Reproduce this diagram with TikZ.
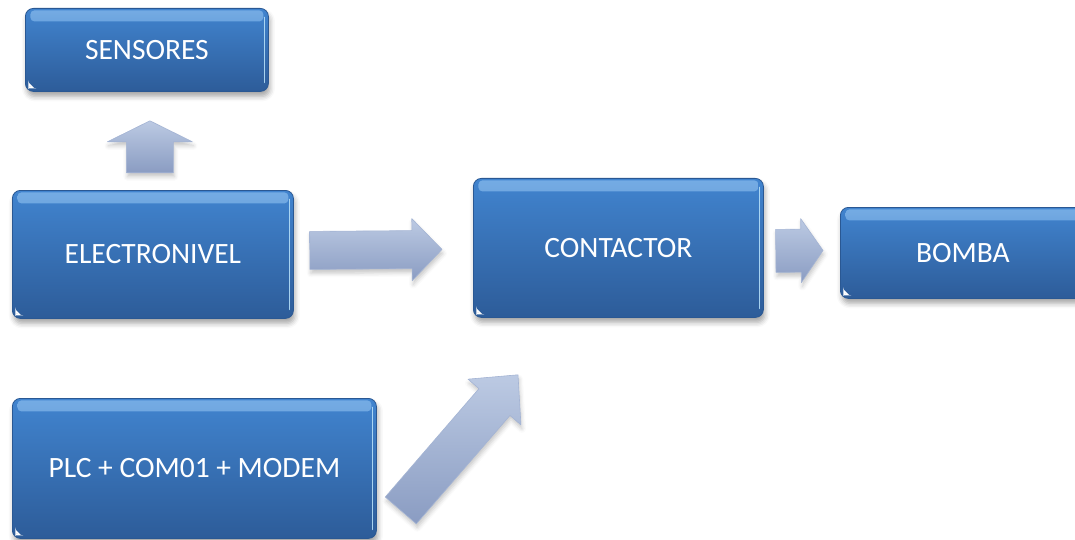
\documentclass[tikz,border=0pt]{standalone}
\usepackage{fontspec}
\setmainfont{Carlito}
\usetikzlibrary{calc,shadows.blur}

\definecolor{boxtop}{HTML}{4184CF}
\definecolor{boxbot}{HTML}{2D5C99}
\definecolor{boxedge}{HTML}{2A5893}
\definecolor{boxshine}{HTML}{7FB4E8}
\definecolor{boxrim}{HTML}{B5DFF8}
\definecolor{arrtop}{HTML}{BCCAE3}
\definecolor{arrbot}{HTML}{8A9CC2}
\definecolor{arredge}{HTML}{A4B4D4}

\tikzset{
  block/.style={
    rounded corners=8pt, draw=boxedge, line width=0.8pt,
    top color=boxtop, bottom color=boxbot,
    text=white, font=\fontsize{29.5}{33}\selectfont,
    inner sep=0pt, anchor=north west,
    blur shadow={shadow xshift=1.5pt, shadow yshift=-5pt,
                 shadow blur radius=5pt, shadow opacity=35},
    path picture={
      % glossy band along the top edge
      \shade[top color=boxshine, bottom color=boxtop, rounded corners=4pt, opacity=0.85]
        ($(path picture bounding box.north west)+(5,2)$) rectangle
        ($(path picture bounding box.north east)+(-5,13)$);
      % bright rim on the right side
      \draw[boxrim, line width=1.4pt, line cap=round, opacity=0.9]
        ($(path picture bounding box.north east)+(-4,9)$) --
        ($(path picture bounding box.south east)+(-4,-9)$);
      % small light corner at the bottom left
      \fill[white]
        ($(path picture bounding box.south west)+(3,-3)$) --
        ($(path picture bounding box.south west)+(3,-9)$) --
        ($(path picture bounding box.south west)+(9,-3)$) -- cycle;
    }
  },
  arrowbody/.style={
    top color=arrtop, bottom color=arrbot, draw=arredge, line width=0.6pt,
    line join=round,
    blur shadow={shadow xshift=1pt, shadow yshift=-4pt,
                 shadow blur radius=4pt, shadow opacity=22}
  }
}

% block arrow: #1 tail, #2 tip, #3 shaft half width, #4 head half width, #5 head length
\newcommand\blockarrow[5]{%
  \coordinate (neck) at ($(#2)!#5!(#1)$);
  \path[arrowbody]
    ($(#1)!#3!90:(#2)$) -- ($(neck)!#3!90:(#2)$) -- ($(neck)!#4!90:(#2)$) --
    (#2) --
    ($(neck)!#4!-90:(#2)$) -- ($(neck)!#3!-90:(#2)$) -- ($(#1)!#3!-90:(#2)$) -- cycle;
}

\begin{document}
\begin{tikzpicture}[x=1pt, y=-1pt]
  \useasboundingbox (0,0) rectangle (1075,540);
  \clip (0,0) rectangle (1075,540);

  % boxes
  \node[block, minimum width=243pt, minimum height=83pt]  (sens)  at (25,8)    {SENSORES};
  \node[block, minimum width=281pt, minimum height=128pt] (elec)  at (12,190)  {ELECTRONIVEL};
  \node[block, minimum width=290pt, minimum height=139pt] (cont)  at (473,178) {CONTACTOR};
  \node[block, minimum width=245pt, minimum height=91pt]  (bomba) at (840,207) {BOMBA};
  \node[block, minimum width=364pt, minimum height=140pt] (plc)   at (12,398)  {PLC + COM01 + MODEM};

  % arrow end points
  \coordinate (upT) at ($(sens.south)+(3,81)$);
  \coordinate (upH) at ($(sens.south)+(3,29)$);
  \coordinate (e2cT) at ($(elec.east)+(16,-4)$);
  \coordinate (e2cH) at ($(cont.west)+(-31,1.5)$);
  \coordinate (c2bT) at ($(cont.east)+(12,3)$);
  \coordinate (c2bH) at ($(bomba.west)+(-17,-2.5)$);
  \coordinate (p2cT) at ($(plc.east)+(24,42)$);
  \coordinate (p2cH) at ($(cont.south west)+(45,57)$);

  % block arrows
  \blockarrow{upT}{upH}{23.5pt}{42.5pt}{21pt}
  \blockarrow{e2cT}{e2cH}{19pt}{31pt}{30pt}
  \blockarrow{c2bT}{c2bH}{21.5pt}{32pt}{22pt}
  \blockarrow{p2cT}{p2cH}{20.5pt}{35pt}{36pt}
\end{tikzpicture}
\end{document}
